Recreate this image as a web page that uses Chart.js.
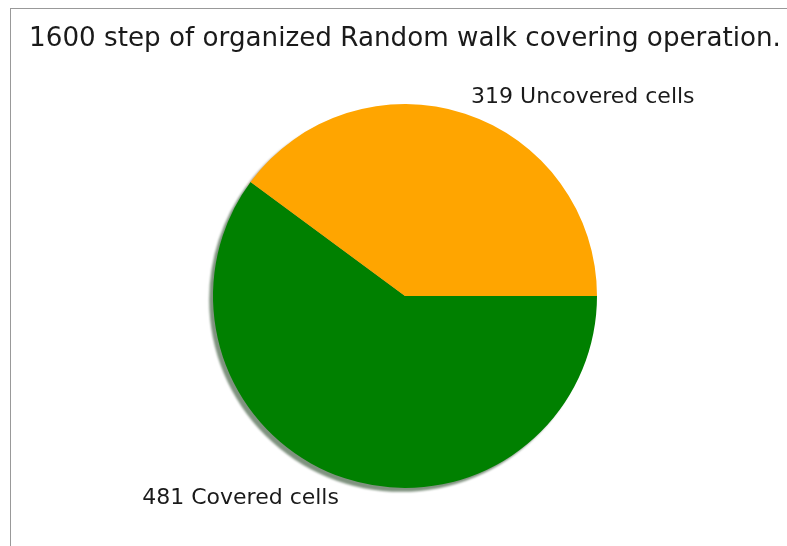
<!DOCTYPE html>
<html>
<head>
<meta charset="utf-8">
<script src="https://cdn.jsdelivr.net/npm/chart.js@4/dist/chart.umd.min.js"></script>
<style>
    body { margin: 0; background: #fff; }
    #wrap { position: relative; width: 787px; height: 546px; }
    #frame {
        position: absolute; left: 10px; top: 8px; right: 0; bottom: 0;
        border-left: 1px solid #999; border-top: 1px solid #999;
        pointer-events: none;
    }
</style>
</head>
<body>
<div id="wrap">
    <canvas id="walkPie" width="787" height="546"></canvas>
    <div id="frame"></div>
</div>
<script>
// Cells after the 1600-step walk
const categories = ['Covered cells', 'Uncovered cells'];
const cellCounts = [481, 319];
const sliceColors = ['#008000', '#FFA500'];
const shadowColors = ['rgba(0, 38, 0, 0.5)', 'rgba(77, 50, 0, 0.5)'];
const chartTitle = '1600 step of organized Random walk covering operation.';

const FONT = '"DejaVu Sans", sans-serif';

// Drop shadow drawn under every wedge, like matplotlib's shadow=True
const pieShadow = {
    id: 'pieShadow',
    beforeDatasetsDraw(chart) {
        const ctx = chart.ctx;
        const meta = chart.getDatasetMeta(0);
        ctx.save();
        ctx.filter = 'blur(1px)';
        meta.data.forEach(function(arc, i) {
            const p = arc.getProps(['x', 'y', 'startAngle', 'endAngle', 'outerRadius']);
            const r = p.outerRadius;
            const dx = -0.02 * r, dy = 0.02 * r;
            ctx.beginPath();
            ctx.moveTo(p.x + dx, p.y + dy);
            ctx.arc(p.x + dx, p.y + dy, r, p.startAngle, p.endAngle);
            ctx.closePath();
            ctx.fillStyle = shadowColors[i];
            ctx.fill();
        });
        ctx.restore();
    }
};

// Wedge labels at 1.1 x radius plus the title
const pieText = {
    id: 'pieText',
    afterDraw(chart) {
        const ctx = chart.ctx;
        const meta = chart.getDatasetMeta(0);
        const area = chart.chartArea;
        ctx.save();
        ctx.fillStyle = '#1a1a1a';
        ctx.font = '22px ' + FONT;
        ctx.textBaseline = 'middle';
        meta.data.forEach(function(arc, i) {
            const p = arc.getProps(['x', 'y', 'startAngle', 'endAngle', 'outerRadius']);
            const mid = (p.startAngle + p.endAngle) / 2;
            const lx = p.x + 1.1 * p.outerRadius * Math.cos(mid);
            const ly = p.y + 1.1 * p.outerRadius * Math.sin(mid);
            ctx.textAlign = lx >= p.x ? 'left' : 'right';
            ctx.fillText(cellCounts[i] + ' ' + categories[i], lx, ly + 2);
        });
        ctx.font = '26.2px ' + FONT;
        ctx.textAlign = 'center';
        ctx.textBaseline = 'alphabetic';
        ctx.fillText(chartTitle, (area.left + area.right) / 2, 46);
        ctx.restore();
    }
};

const ctx = document.getElementById('walkPie').getContext('2d');
new Chart(ctx, {
    type: 'pie',
    data: {
        labels: categories,
        datasets: [{
            data: cellCounts,
            backgroundColor: sliceColors,
            borderWidth: 0
        }]
    },
    options: {
        responsive: false,
        animation: false,
        devicePixelRatio: 1,
        rotation: 90,
        layout: { padding: { left: 213, right: 190, top: 104, bottom: 58 } },
        plugins: {
            legend: { display: false },
            title: { display: false },
            tooltip: { enabled: false }
        },
        events: []
    },
    plugins: [pieShadow, pieText]
});
</script>
</body>
</html>
